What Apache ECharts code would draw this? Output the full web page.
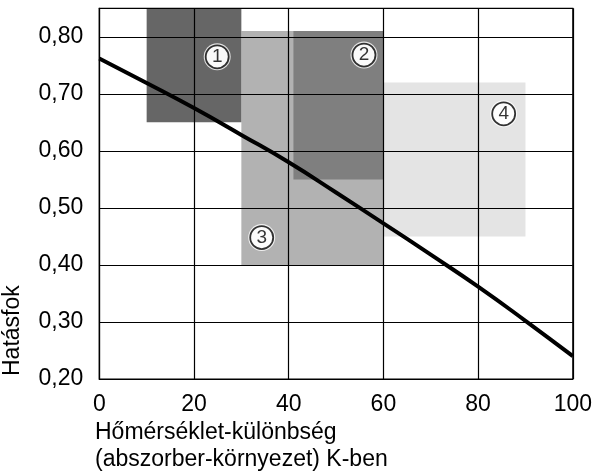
<!DOCTYPE html>
<html><head><meta charset="utf-8">
<script src="https://cdn.jsdelivr.net/npm/echarts@6/dist/echarts.min.js"></script>
<style>html,body{margin:0;padding:0;background:#fff}#c{width:595px;height:476px}</style>
</head><body><div id="c"></div>
<script>
// Efficiency curve
const curveX = [0, 10, 20, 30, 40, 50, 60, 70, 80, 90, 100];
const curveY = [0.762, 0.719, 0.675, 0.628, 0.580, 0.527, 0.473, 0.418, 0.362, 0.302, 0.240];
// Rectangles: [xFrom, xTo, yFrom, yTo]
const boxNames = ['4', '3', '2', '1'];
const boxX0 = [60, 30, 41, 10];
const boxX1 = [90, 60, 60, 30];
const boxY0 = [0.45, 0.40, 0.55, 0.65];
const boxY1 = [0.72, 0.81, 0.81, 0.85];
const boxColors = ['#e4e4e4', '#b2b2b2', '#7f7f7f', '#666666'];
// Circled labels
const markLabels = ['1', '2', '3', '4'];
const markX = [24.9, 55.9, 34.3, 85.4];
const markY = [0.765, 0.768, 0.448, 0.665];

const chart = echarts.init(document.getElementById('c'));
const font = '"Liberation Sans", Arial, sans-serif';
chart.setOption({
  animation: false,
  grid: {left: 99.3, right: 20.7, top: 8.3, bottom: 97, show: true, borderColor: '#000', borderWidth: 1.2, z: 4},
  xAxis: {type: 'value', min: 0, max: 100, interval: 20, z: 3,
    axisLine: {show: true, lineStyle: {color: '#000', width: 1.2}},
    axisTick: {show: false},
    splitLine: {show: true, lineStyle: {color: '#000', width: 1.2}},
    axisLabel: {color: '#000', fontFamily: font, fontSize: 23, margin: 14}
  },
  yAxis: {type: 'value', min: 0.2, max: 0.85, interval: 0.1, z: 3,
    axisLine: {show: true, lineStyle: {color: '#000', width: 1.2}},
    axisTick: {show: false},
    splitLine: {show: true, lineStyle: {color: '#000', width: 1.2}},
    axisLabel: {color: '#000', fontFamily: font, fontSize: 23, margin: 16,
      formatter: v => (v > 0.81 ? '' : v.toFixed(2).replace('.', ','))}
  },
  graphic: [
    {type: 'text', left: 95, top: 421, style: {text: 'Hőmérséklet-különbség', fill: '#000', fontFamily: font, fontSize: 23}},
    {type: 'text', left: 95, top: 448, style: {text: '(abszorber-környezet) K-ben', fill: '#000', fontFamily: font, fontSize: 23}},
    {type: 'text', x: 1, y: 376, rotation: Math.PI / 2, style: {text: 'Hatásfok', fill: '#000', fontFamily: font, fontSize: 23, align: 'left', verticalAlign: 'top'}}
  ],
  series: [
    {type: 'custom', z: 1,
      data: boxNames.map((n, i) => [boxX0[i], boxX1[i], boxY0[i], boxY1[i], i]),
      renderItem: (params, api) => {
        const p0 = api.coord([api.value(0), api.value(3)]);
        const p1 = api.coord([api.value(1), api.value(2)]);
        return {type: 'rect', shape: {x: p0[0], y: p0[1], width: p1[0] - p0[0], height: p1[1] - p0[1]},
          style: {fill: boxColors[api.value(4)]}};
      },
      encode: {x: [0, 1], y: [2, 3]}
    },
    {type: 'line', z: 5, smooth: true, showSymbol: false, symbol: 'none',
      data: curveX.map((x, i) => [x, curveY[i]]),
      lineStyle: {color: '#000', width: 4}
    },
    {type: 'scatter', z: 6, symbol: 'circle', symbolSize: 27,
      data: markLabels.map((l, i) => ({value: [markX[i], markY[i]]})),
      itemStyle: {color: '#fff'}
    },
    {type: 'scatter', z: 7, symbol: 'circle', symbolSize: 23,
      data: markLabels.map((l, i) => ({value: [markX[i], markY[i]], name: l})),
      itemStyle: {color: '#fff', borderColor: '#000', borderWidth: 1.8},
      label: {show: true, position: 'inside', formatter: p => p.name, color: '#000', fontFamily: font, fontSize: 19}
    }
  ]
});
</script></body></html>
